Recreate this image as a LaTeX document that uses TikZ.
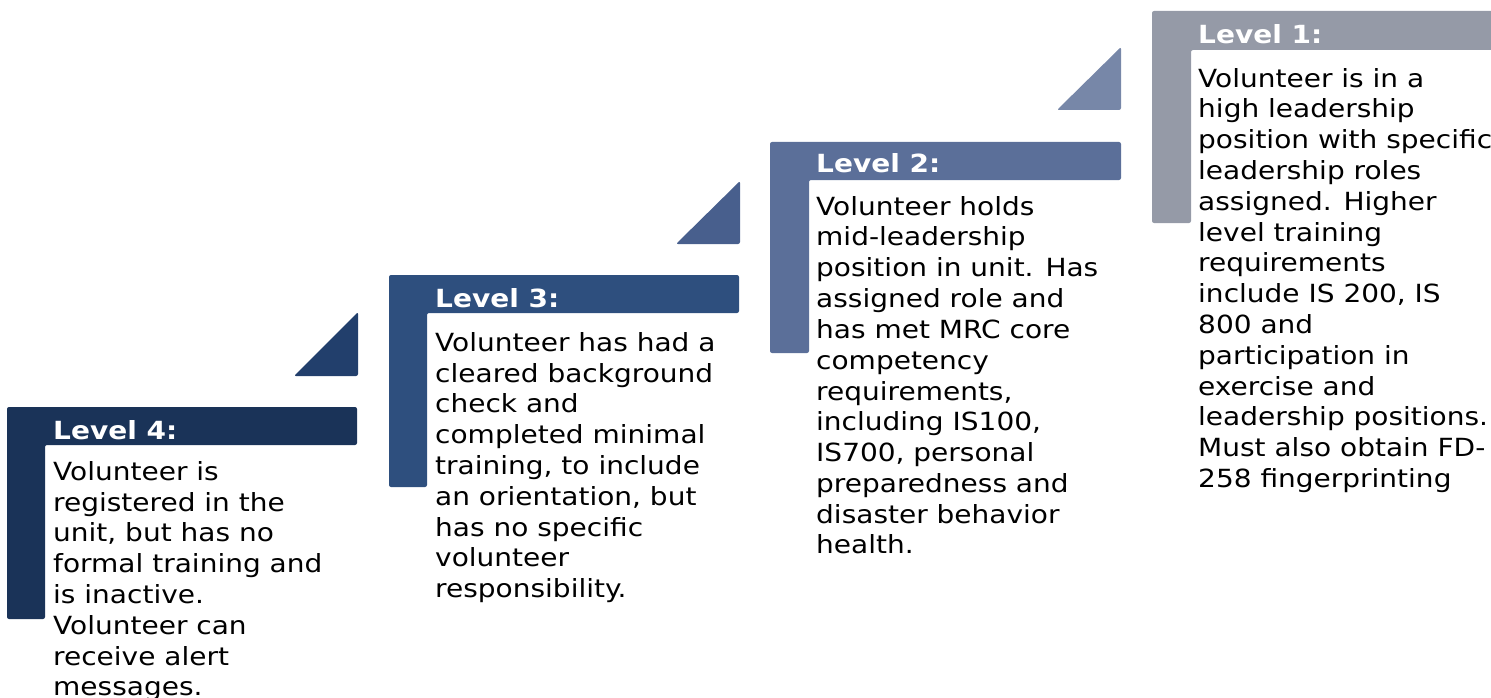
\documentclass[tikz,border=0pt]{standalone}
\usepackage{fontspec}
\setmainfont[FakeStretch=1.12]{DejaVu Sans}
\definecolor{cL4}{HTML}{1A3358}
\definecolor{cT4}{HTML}{223F6C}
\definecolor{cL3}{HTML}{2E4F7E}
\definecolor{cT3}{HTML}{485F8D}
\definecolor{cL2}{HTML}{5B6F99}
\definecolor{cT2}{HTML}{7787A8}
\definecolor{cL1}{HTML}{959AA7}
\tikzset{
  head/.style={anchor=base west, inner sep=0pt, text=white, font=\fontsize{25}{30.8}\selectfont\bfseries},
  body/.style={anchor=north west, inner sep=0pt, align=left, text=black, font=\fontsize{25}{30.8}\selectfont},
  lshape/.style={rounded corners=2pt},
}
\begin{document}
\begin{tikzpicture}[x=1pt,y=-1pt]
\useasboundingbox (0,0) rectangle (1491,698);
\clip (0,0) rectangle (1491,698);
% L-shapes
\fill[lshape,cL4] (7,407) -- (357,407) -- (357,445) -- (45,445) -- (45,619) -- (7,619) -- cycle;
\fill[lshape,cL3] (389,275) -- (739,275) -- (739,313) -- (427,313) -- (427,487) -- (389,487) -- cycle;
\fill[lshape,cL2] (770,142) -- (1121,142) -- (1121,180) -- (809,180) -- (809,353) -- (770,353) -- cycle;
\fill[lshape,cL1] (1152,11) -- (1510,11) -- (1510,50) -- (1191,50) -- (1191,223) -- (1152,223) -- cycle;
% triangles
\fill[lshape,cT4] (294,376) -- (358,376) -- (358,312) -- cycle;
\fill[lshape,cT3] (676,244) -- (740,244) -- (740,181) -- cycle;
\fill[lshape,cT2] (1057,110) -- (1121,110) -- (1121,47) -- cycle;
% headings
\node[head] (h4) at (53,439) {Level 4:};
\node[head] (h3) at (435,307) {Level 3:};
\node[head] (h2) at (816,172) {Level 2:};
\node[head] (h1) at (1198,44) {Level 1:};
% bodies
\node[body] (b4) at (53,461) {Volunteer is\\registered in the\\unit, but has no\\formal training and\\is inactive.\\Volunteer can\\receive alert\\messages.};
\node[body] (b3) at (435,332) {Volunteer has had a\\cleared background\\check and\\completed minimal\\training, to include\\an orientation, but\\has no specific\\volunteer\\responsibility.};
\node[body] (b2) at (816,196) {Volunteer holds\\mid-leadership\\position in unit. Has\\assigned role and\\has met MRC core\\competency\\requirements,\\including IS100,\\IS700, personal\\preparedness and\\disaster behavior\\health.};
\node[body] (b1) at (1198,68) {Volunteer is in a\\high leadership\\position with specific\\leadership roles\\assigned. Higher\\level training\\requirements\\include IS 200, IS\\800 and\\participation in\\exercise and\\leadership positions.\\Must also obtain FD-\\258 fingerprinting};
\end{tikzpicture}
\end{document}
